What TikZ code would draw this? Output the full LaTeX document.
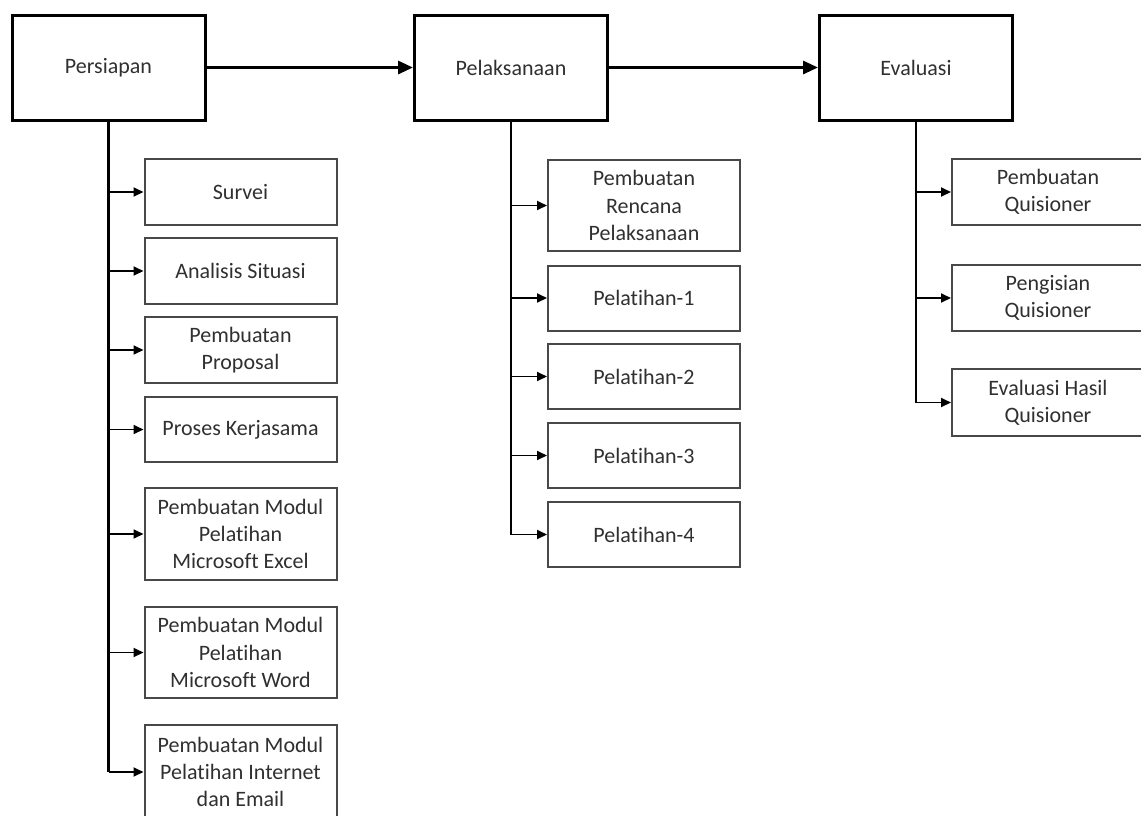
\documentclass[tikz,border=0pt]{standalone}
\usepackage{fontspec}
\setmainfont{Carlito}[Ligatures={NoCommon}]
\usetikzlibrary{arrows.meta}
\definecolor{txt}{HTML}{303030}
\definecolor{sub}{HTML}{484848}
\tikzset{
  mainbox/.style={draw=black, line width=1.5pt, minimum width=96.5pt, minimum height=52.5pt, inner sep=0pt, text=txt, font=\fontsize{11}{13.6}\selectfont, align=center},
  subbox/.style={draw=sub, line width=1pt, minimum width=96pt, inner sep=0pt, text=txt, font=\fontsize{11}{13.6}\selectfont, align=center},
  mainarrow/.style={line width=1.5pt, -{Triangle[length=7.5pt,width=6.5pt]}},
  trunk/.style={line width=1.4pt},
  branch/.style={line width=0.9pt, -{Triangle[length=5pt,width=4.5pt]}}
}
\begin{document}
\begin{tikzpicture}[x=0.5pt,y=-0.5pt]
\clip (0,0) rectangle (1141,815);
\fill[white] (0,0) rectangle (1141,815);
% main boxes
\node[mainbox] (pers) at (108.5,67.5) {Persiapan};
\node[mainbox] (pel) at (511,67.5) {Pelaksanaan};
\node[mainbox] (eva) at (916,67.5) {Evaluasi};
\draw[mainarrow] (pers.east) -- (pel.west);
\draw[mainarrow] (pel.east) -- (eva.west);
% Persiapan children
\node[subbox, minimum height=33pt] (c1) at (240.5,192) {Survei};
\node[subbox, minimum height=33pt] (c2) at (240.5,271) {Analisis Situasi};
\node[subbox, minimum height=33pt] (c3) at (240.5,350) {Pembuatan\\Proposal};
\node[subbox, minimum height=32.5pt] (c4) at (240.5,429.5) {Proses Kerjasama};
\node[subbox, minimum height=46pt] (c5) at (240.5,534) {Pembuatan Modul\\Pelatihan\\Microsoft Excel};
\node[subbox, minimum height=45.5pt] (c6) at (240.5,652.5) {Pembuatan Modul\\Pelatihan\\Microsoft Word};
\node[subbox, minimum height=47pt] (c7) at (240.5,772) {Pembuatan Modul\\Pelatihan Internet\\dan Email};
\draw[trunk] (pers.south) -- (pers.south |- c7.west);
\foreach \c in {c1,c2,c3,c4,c5,c6,c7}
  \draw[branch] (pers.south |- \c.west) -- (\c.west);
% Pelaksanaan children
\node[subbox, minimum height=45.5pt] (d1) at (644,205.5) {Pembuatan\\Rencana\\Pelaksanaan};
\node[subbox, minimum height=32.5pt] (d2) at (644,298) {Pelatihan-1};
\node[subbox, minimum height=32.5pt] (d3) at (644,376.5) {Pelatihan-2};
\node[subbox, minimum height=32.5pt] (d4) at (644,455.5) {Pelatihan-3};
\node[subbox, minimum height=32.5pt] (d5) at (644,534.5) {Pelatihan-4};
\draw[trunk] (pel.south) -- (pel.south |- d5.west);
\foreach \c in {d1,d2,d3,d4,d5}
  \draw[branch] (pel.south |- \c.west) -- (\c.west);
% Evaluasi children
\node[subbox, minimum height=33pt] (e1) at (1048,192) {Pembuatan\\Quisioner};
\node[subbox, minimum height=33pt] (e2) at (1048,298) {Pengisian\\Quisioner};
\node[subbox, minimum height=33.5pt] (e3) at (1048,402.5) {Evaluasi Hasil\\Quisioner};
\draw[trunk] (eva.south) -- (eva.south |- e3.west);
\foreach \c in {e1,e2,e3}
  \draw[branch] (eva.south |- \c.west) -- (\c.west);
\end{tikzpicture}
\end{document}
